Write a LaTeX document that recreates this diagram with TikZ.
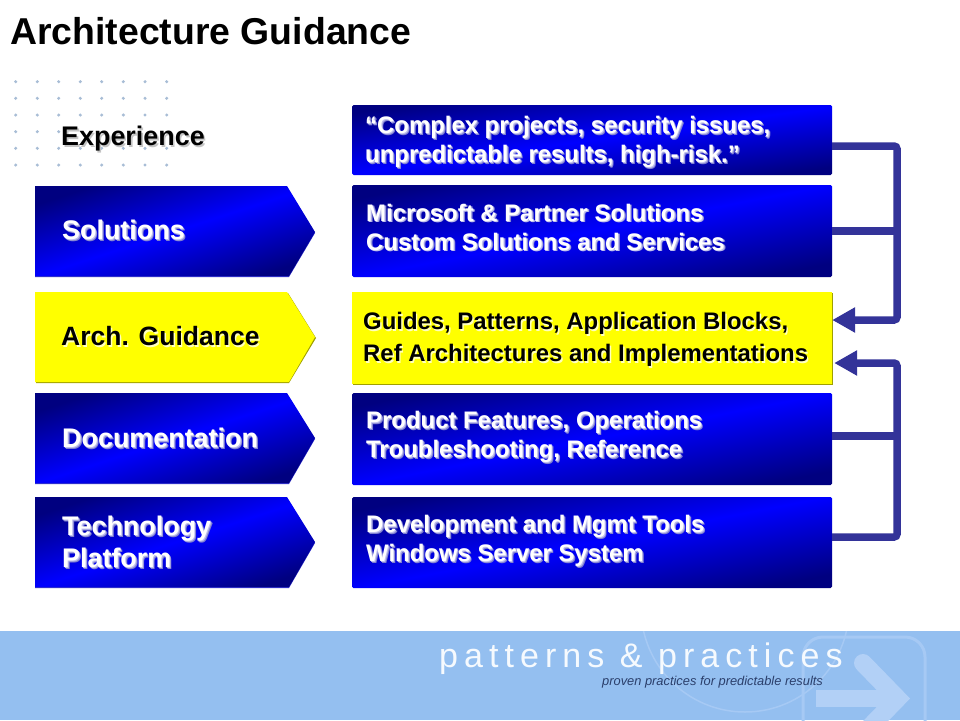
\documentclass[tikz,border=0pt]{standalone}
\usepackage{fontspec}
\setmainfont{Liberation Sans}
\usetikzlibrary{arrows.meta}
\definecolor{navyend}{HTML}{000080}
\definecolor{midblue}{HTML}{0000FF}
\definecolor{connblue}{HTML}{333399}
\definecolor{footerblue}{HTML}{94BFF0}
\definecolor{footerline}{HTML}{A6C9F4}
\definecolor{footerarrow}{HTML}{B2D0F6}
\definecolor{dotblue}{HTML}{A8BDD6}
\definecolor{pureyellow}{HTML}{FFFF00}
\definecolor{yellowedge}{HTML}{A0A000}
\definecolor{blueedge}{HTML}{3333CC}
\newcommand{\wtx}[1]{\rlap{\kern1.8pt\raisebox{-1.8pt}{\color[HTML]{8080D0}#1}}\rlap{\kern0.9pt\raisebox{-0.9pt}{\color[HTML]{C0C0EE}#1}}{\color{white}#1}}
\newcommand{\ktx}[1]{\rlap{\kern1.6pt\raisebox{-1.6pt}{\color[HTML]{C4C4C4}#1}}{\color{black}#1}}
\newcommand{\ytx}[1]{\rlap{\kern1.4pt\raisebox{-1.4pt}{\color[HTML]{FFFFC0}#1}}{\color{black}#1}}
\tikzset{
  x=1pt,y=-1pt,
  blueshade/.style={top color=navyend,bottom color=navyend,middle color=midblue},
  rbox/.style={minimum width=480pt,inner sep=0pt,rounded corners=1.5pt,blueshade,shading angle=11,draw=none},
  lbl/.style={anchor=west,align=left,inner sep=0pt,font=\fontsize{26.9}{32}\selectfont\bfseries},
  rtxt/.style={anchor=west,align=left,inner sep=0pt,font=\fontsize{23.9}{29}\selectfont\bfseries},
  conn/.style={draw=connblue,line width=7.5pt,rounded corners=3pt},
  connarrow/.style={conn,-{Triangle[length=23pt,width=24pt]}},
  larrow/.style={blueshade,shading angle=18},
}
\newcommand{\chevron}[2]{(35,#1) -- (287,#1) -- (315,#2) -- (289,#1+90) -- (35,#1+90) -- cycle}
\begin{document}
\begin{tikzpicture}
\useasboundingbox (0,0) rectangle (960,720);
\fill[white] (0,0) rectangle (960,720);
% dot grid
\foreach \yy in {81.7,98.3,115,148.3,165}
  \foreach \xx in {15.7,37.3,58.7,80.3,101.7,123.3,145,166.7}
    \fill[dotblue] (\xx,\yy) circle (1.7pt);
\foreach \xx in {15.7,37.3,58.7}
  \fill[dotblue] (\xx,131.7) circle (1.7pt);
% title
\node[anchor=west,inner sep=0pt,font=\fontsize{37.4}{42}\selectfont\bfseries] (title) at (10,31) {Architecture Guidance};
\node[lbl] (experience) at (61,139.5) {\ktx{Experience}};
% left chevrons
\fill[blueedge] \chevron{187}{233};
\shade[larrow] \chevron{186}{232};
\node[lbl] (solutions) at (62,231) {\wtx{Solutions}};
\fill[yellowedge] (36,293) -- (288,293) -- (316,338) -- (289,383) -- (36,383) -- cycle;
\fill[pureyellow] \chevron{292}{337};
\node[lbl,font=\fontsize{26.5}{32}\selectfont\bfseries] (archg) at (61,337) {\ytx{Arch. Guidance}};
\fill[blueedge] \chevron{394}{439};
\shade[larrow] \chevron{393}{438};
\node[lbl] (docs) at (62,439) {\wtx{Documentation}};
\fill[blueedge] \chevron{498}{543};
\shade[larrow] \chevron{497}{542};
\node[lbl] (tech) at (62,543) {\wtx{Technology}\\\wtx{Platform}};
% right boxes
\node[rbox,minimum height=70pt,shading angle=8] (box0) at (592,140) {};
\node[rbox,minimum height=92pt] (box1) at (592,231) {};
\fill[yellowedge] (353,293) rectangle (833,385);
\node[minimum width=480pt,minimum height=92pt,inner sep=0pt,fill=pureyellow] (box2) at (592,338) {};
\node[rbox,minimum height=92pt] (box3) at (592,439) {};
\node[rbox,minimum height=91pt] (box4) at (592,542.5) {};
\node[rtxt] (t0) at (365,143) {\wtx{“Complex projects, security issues,}\\\wtx{unpredictable results, high-risk.”}};
\node[rtxt] (t1) at (366,228) {\wtx{Microsoft \& Partner Solutions}\\\wtx{Custom Solutions and Services}};
\node[rtxt] (t2) at (363,340.5) {\ytx{Guides, Patterns, Application Blocks,}\\[3pt]\ytx{Ref Architectures and Implementations}};
\node[rtxt] (t3) at (366,437.5) {\wtx{Product Features, Operations}\\\wtx{Troubleshooting, Reference}};
\node[rtxt] (t4) at (366,541.5) {\wtx{Development and Mgmt Tools}\\\wtx{Windows Server System}};
% connectors
\coordinate (j0) at (897,146);
\coordinate (j1) at (897,231);
\coordinate (j2) at (897,320);
\coordinate (j3) at (897,363);
\coordinate (j4) at (897,436);
\coordinate (j5) at (897,537);
\draw[connarrow] (box0.east |- j0) -- (j0) -- (j2) -- (box2.east |- j2);
\draw[conn] (box1.east) -- (j1);
\draw[connarrow] (box4.east |- j5) -- (j5) -- (j3) -- ([xshift=2pt]box2.east |- j3);
\draw[conn] (box3.east |- j4) -- (j4);
% footer
\fill[footerblue] (0,631) rectangle (960,720);
\begin{scope}
\clip (0,631) rectangle (960,720);
\draw[footerline,line width=1.5pt] (745,608) circle (104pt);
\draw[footerline,line width=3pt,rounded corners=20pt] (803,637) rectangle (925,760);
\fill[footerarrow] (816,690) rectangle (897,707);
\draw[footerarrow,line width=18pt,line cap=round,miter limit=4] (863,663) -- (897.5,698.5) -- (863,734);
\end{scope}
\node[anchor=west,inner sep=0pt,text=white!92!footerblue,font=\fontsize{34}{40}\selectfont\addfontfeatures{LetterSpace=17.8}] (pp) at (439,659) {patterns \& practices};
\node[anchor=west,inner sep=0pt,text={rgb,255:red,43;green,63;blue,107},font=\fontsize{12.85}{16}\selectfont\itshape] (tag) at (602,682) {proven practices for predictable results};
\end{tikzpicture}
\end{document}
